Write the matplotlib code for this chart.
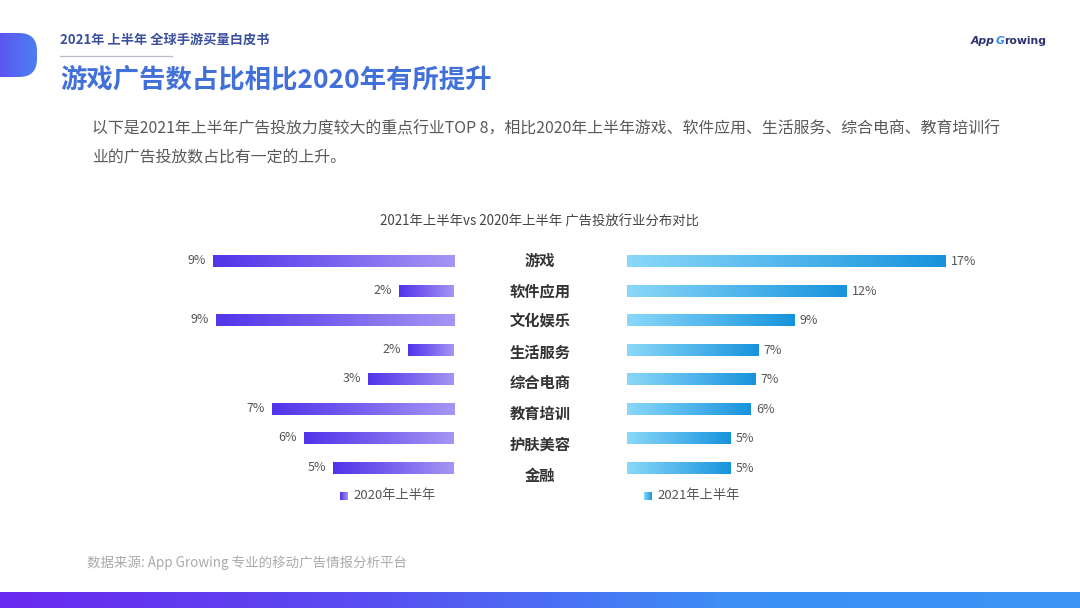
import numpy as np
import matplotlib
matplotlib.use("Agg")
import matplotlib.pyplot as plt
from matplotlib.colors import LinearSegmentedColormap
from matplotlib.patches import FancyBboxPatch

plt.rcParams['font.family'] = ['Noto Sans CJK SC', 'DejaVu Sans']

# ---------------- data ----------------
categories = ["游戏", "软件应用", "文化娱乐", "生活服务", "综合电商", "教育培训", "护肤美容", "金融"]
share_2020 = [9.0, 2.05, 8.9, 1.7, 3.2, 6.8, 5.6, 4.5]
labels_2020 = ["9%", "2%", "9%", "2%", "3%", "7%", "6%", "5%"]
share_2021 = [17.0, 11.7, 8.95, 7.0, 6.85, 6.6, 5.5, 5.5]
labels_2021 = ["17%", "12%", "9%", "7%", "7%", "6%", "5%", "5%"]
series_names = ["2020年上半年", "2021年上半年"]

header = "2021年 上半年 全球手游买量白皮书"
title = "游戏广告数占比相比2020年有所提升"
body_1 = "以下是2021年上半年广告投放力度较大的重点行业TOP 8，相比2020年上半年游戏、软件应用、生活服务、综合电商、教育培训行"
body_2 = "业的广告投放数占比有一定的上升。"
chart_title = "2021年上半年vs 2020年上半年 广告投放行业分布对比"
source = "数据来源: App Growing 专业的移动广告情报分析平台"

# ---------------- layout helpers ----------------
W, H = 1080, 608
fig = plt.figure(figsize=(W / 100, H / 100), dpi=100)
fig.patch.set_facecolor("white")


def box(x0, y0, x1, y1):
    return [x0 / W, 1 - y1 / H, (x1 - x0) / W, (y1 - y0) / H]


def ftxt(x, y, s, **kw):
    return fig.text(x / W, 1 - y / H, s, **kw)


grad = np.linspace(0, 1, 256).reshape(1, -1)
cmap_2020 = LinearSegmentedColormap.from_list("c20", ["#a596f4", "#7a62ef", "#5234ea"])
cmap_2021 = LinearSegmentedColormap.from_list("c21", ["#8ad8f8", "#52b6ec", "#1793dc"])
cmap_blob = LinearSegmentedColormap.from_list("blob", ["#6a36ef", "#4b7ff3"])
cmap_bottom = LinearSegmentedColormap.from_list("bot", ["#6a28ef", "#5a4cf1", "#3d8ef5", "#3c96f5"])


def gradient_bars(ax, bars, cmap):
    for b in bars:
        x0, w, y0, h = b.get_x(), b.get_width(), b.get_y(), b.get_height()
        ax.imshow(grad, extent=[x0, x0 + w, y0, y0 + h], aspect="auto",
                  cmap=cmap, origin="lower", interpolation="bilinear", zorder=2)


ypos = np.arange(len(categories))

# ---------------- left (2020) ----------------
axl = fig.add_axes(box(180, 247, 454, 483))
bars_l = axl.barh(ypos, share_2020, height=0.38, color="none", edgecolor="none")
gradient_bars(axl, bars_l, cmap_2020)
for i, (v, lab) in enumerate(zip(share_2020, labels_2020)):
    axl.annotate(lab, (v, i), xytext=(-7, 1), textcoords="offset pixels",
                 ha="right", va="center", fontsize=9, color="#555555")
axl.set_xlim(10.23, 0)
axl.set_ylim(7.5, -0.5)
axl.axis("off")

# ---------------- right (2021) ----------------
axr = fig.add_axes(box(627, 247, 1000, 483))
bars_r = axr.barh(ypos, share_2021, height=0.38, color="none", edgecolor="none")
gradient_bars(axr, bars_r, cmap_2021)
for i, (v, lab) in enumerate(zip(share_2021, labels_2021)):
    axr.annotate(lab, (v, i), xytext=(5, 0), textcoords="offset pixels",
                 ha="left", va="center", fontsize=9, color="#555555")
axr.set_xlim(0, 19.88)
axr.set_ylim(7.5, -0.5)
axr.axis("off")

# ---------------- category labels ----------------
axc = fig.add_axes(box(490, 245, 590, 491))
for i, c in enumerate(categories):
    axc.text(0.5, i, c, ha="center", va="center", fontsize=11,
             fontweight="bold", color="#333333")
axc.set_xlim(0, 1)
axc.set_ylim(7.5, -0.5)
axc.axis("off")

# ---------------- legends ----------------
for (x0, name, cmap) in [(340, series_names[0], cmap_2020), (644, series_names[1], cmap_2021)]:
    la = fig.add_axes(box(x0, 492, x0 + 8, 500))
    la.imshow(grad[:, ::-1] if cmap is cmap_2020 else grad, aspect="auto", cmap=cmap)
    la.axis("off")
    ftxt(x0 + 13, 496, name, ha="left", va="center", fontsize=9.5, color="#555555")

# ---------------- texts ----------------
ftxt(540, 222, chart_title, ha="center", va="center", fontsize=9.6, color="#444444")
ftxt(60, 40, header, ha="left", va="center", fontsize=9.5, fontweight="bold", color="#3a4f9e")
ftxt(60, 80, title, ha="left", va="center", fontsize=19, fontweight="bold", color="#4270d9")
ftxt(92, 129, body_1, ha="left", va="center", fontsize=11.45, color="#595959")
ftxt(92, 158, body_2, ha="left", va="center", fontsize=11.45, color="#595959")
ftxt(87, 563, source, ha="left", va="center", fontsize=9.7, color="#ababab")

# header underline
fig.add_artist(plt.Line2D([60 / W, 172 / W], [1 - 56 / H, 1 - 56 / H], color="#b8bcc8", lw=0.9))

# logo: pieces placed side by side using measured extents
renderer = fig.canvas.get_renderer()
logo_parts = [("App", "#2b3270", "italic"), ("G", "#3a8ee6", "italic"), ("rowing", "#2b3270", "normal")]
xcur = 971
for s, col, sty in logo_parts:
    t = ftxt(xcur, 41, s, ha="left", va="center", fontsize=7.8, fontweight="bold",
             fontstyle=sty, color=col, family=["DejaVu Sans"])
    ext = t.get_window_extent(renderer)
    xcur += ext.width + 0.3

# header blob
ab = fig.add_axes(box(0, 33, 40, 77))
im = ab.imshow(grad, extent=[-30, 37, 0, 44], aspect="auto", cmap=cmap_blob)
patch = FancyBboxPatch((-30, 0), 67, 44, boxstyle="round,pad=0,rounding_size=18",
                       facecolor="none", edgecolor="none")
ab.add_patch(patch)
im.set_clip_path(patch)
ab.set_xlim(0, 40)
ab.set_ylim(0, 44)
ab.axis("off")

# bottom bar
abot = fig.add_axes(box(0, 592, 1080, 608))
abot.imshow(grad, aspect="auto", cmap=cmap_bottom, extent=[0, 1, 0, 1])
abot.axis("off")

fig.savefig("out.png", dpi=100, facecolor="white")
